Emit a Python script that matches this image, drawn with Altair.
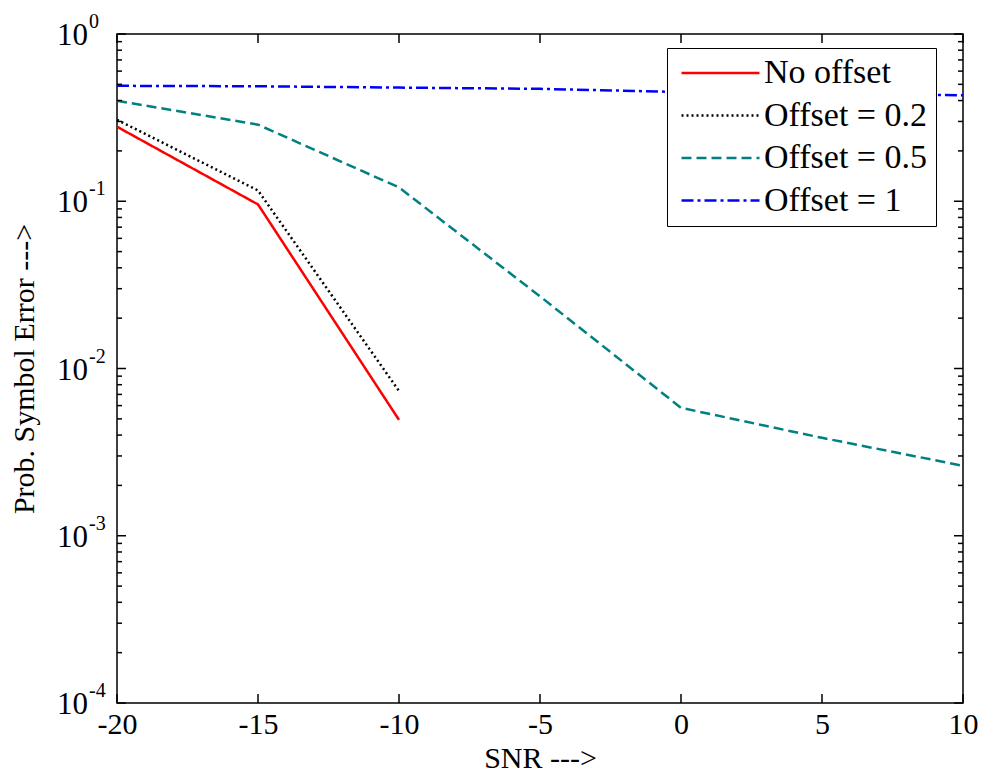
import altair as alt
import pandas as pd

# ---- data ----
snr = [-20, -15, -10, -5, 0, 5, 10]
no_offset_x = [-20, -15, -10]
no_offset_y = [0.279, 0.0957, 0.00493]
off02_x = [-20, -15, -10]
off02_y = [0.307, 0.116, 0.00734]
off05_y = [0.399, 0.287, 0.121, 0.0270, 0.00582, 0.00385, 0.00262]
off1_y = [0.49, 0.487, 0.478, 0.47, 0.45, 0.44, 0.43]

series_names = ["No offset", "Offset = 0.2", "Offset = 0.5", "Offset = 1"]
series_colors = ["#FF0000", "#000000", "#008080", "#0000FF"]
series_dashes = [[1, 0], [2, 3], [10, 5], [12, 4, 3, 4]]

x_ticks = [-20, -15, -10, -5, 0, 5, 10]
y_major = [1e-4, 1e-3, 1e-2, 1e-1, 1e0]
y_exp_labels = ["-4", "-3", "-2", "-1", "0"]
y_minor = [m * 10.0 ** e for e in [-4, -3, -2, -1] for m in range(2, 10)]

W, H = 846, 669
FONT = "Liberation Serif"

rows = []
for x, y in zip(no_offset_x, no_offset_y):
    rows.append({"snr": x, "pe": y, "series": series_names[0]})
for x, y in zip(off02_x, off02_y):
    rows.append({"snr": x, "pe": y, "series": series_names[1]})
for x, y in zip(snr, off05_y):
    rows.append({"snr": x, "pe": y, "series": series_names[2]})
for x, y in zip(snr, off1_y):
    rows.append({"snr": x, "pe": y, "series": series_names[3]})
df = pd.DataFrame(rows)

xscale = alt.Scale(domain=[-20, 10], nice=False, zero=False)
yscale = alt.Scale(type="log", domain=[1e-4, 1], nice=False)

leg = alt.Legend(
    title=None, orient="none", legendX=550, legendY=14,
    symbolType="stroke", symbolSize=6084, symbolStrokeWidth=2.5,
    symbolOffset=5, clipHeight=34,
    labelFont=FONT, labelFontSize=34, labelColor="black", labelOffset=3,
    labelLimit=400,
    fillColor="white", strokeColor="black",
    padding=8, rowPadding=8.5, cornerRadius=0,
)

lines = alt.Chart(df).mark_line(strokeWidth=2.5).encode(
    x=alt.X("snr:Q", scale=xscale,
            axis=alt.Axis(values=x_ticks, ticks=False, domain=False, grid=False,
                          labelExpr="toString(datum.value)",
                          labelFont=FONT, labelFontSize=30, labelColor="black",
                          labelPadding=6, labelFlush=False, labelOverlap=False,
                          title="SNR --->", titleFont=FONT, titleFontSize=30,
                          titleFontWeight="normal", titleColor="black",
                          titlePadding=4)),
    y=alt.Y("pe:Q", scale=yscale,
            axis=alt.Axis(labels=False, ticks=False, domain=False, grid=False,
                          title="Prob. Symbol Error --->", titleFont=FONT,
                          titleFontSize=30, titleFontWeight="normal",
                          titleColor="black", titlePadding=78)),
    color=alt.Color("series:N", scale=alt.Scale(domain=series_names, range=series_colors),
                    sort=series_names, legend=leg),
    strokeDash=alt.StrokeDash("series:N", scale=alt.Scale(domain=series_names, range=series_dashes),
                              sort=series_names, legend=leg),
)

xt = pd.DataFrame({"snr": x_ticks})
ymaj = pd.DataFrame({"pe": y_major, "exp": y_exp_labels, "base": ["10"] * len(y_major)})
ymin = pd.DataFrame({"pe": y_minor})

tick_style = dict(color="black", strokeWidth=1.5)
xt_bottom = alt.Chart(xt).mark_rule(**tick_style).encode(
    x=alt.X("snr:Q", scale=xscale), y=alt.value(H), y2=alt.value(H - 9))
xt_top = alt.Chart(xt).mark_rule(**tick_style).encode(
    x=alt.X("snr:Q", scale=xscale), y=alt.value(0), y2=alt.value(9))
yt_left = alt.Chart(ymaj).mark_rule(**tick_style).encode(
    y=alt.Y("pe:Q", scale=yscale), x=alt.value(0), x2=alt.value(9))
yt_right = alt.Chart(ymaj).mark_rule(**tick_style).encode(
    y=alt.Y("pe:Q", scale=yscale), x=alt.value(W), x2=alt.value(W - 9))
ym_left = alt.Chart(ymin).mark_rule(**tick_style).encode(
    y=alt.Y("pe:Q", scale=yscale), x=alt.value(0), x2=alt.value(5))
ym_right = alt.Chart(ymin).mark_rule(**tick_style).encode(
    y=alt.Y("pe:Q", scale=yscale), x=alt.value(W), x2=alt.value(W - 5))

ylab_base = alt.Chart(ymaj).mark_text(
    font=FONT, fontSize=31, color="black", align="right", baseline="middle", dy=2
).encode(y=alt.Y("pe:Q", scale=yscale), x=alt.value(-29), text="base:N")
ylab_exp = alt.Chart(ymaj).mark_text(
    font=FONT, fontSize=20, color="black", align="left", baseline="middle", dy=-12
).encode(y=alt.Y("pe:Q", scale=yscale), x=alt.value(-28), text="exp:N")

chart = alt.layer(
    lines, xt_bottom, xt_top, yt_left, yt_right, ym_left, ym_right, ylab_base, ylab_exp
).properties(
    width=W, height=H,
    autosize=alt.AutoSizeParams(type="none"),
    padding={"left": 117, "top": 34, "right": 22, "bottom": 79},
    background="white",
).configure_view(stroke="black", strokeWidth=1.5)

chart.save("out.html", embed_options={"renderer": "svg", "actions": False})
